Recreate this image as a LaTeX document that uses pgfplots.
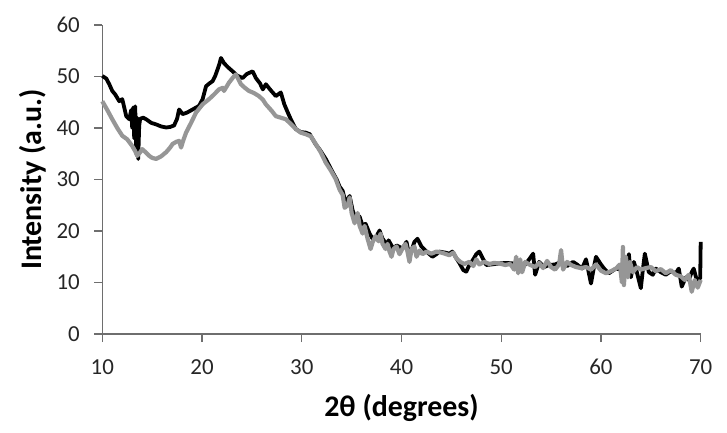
\documentclass[border=0pt]{standalone}
\usepackage{pgfplots}
\pgfplotsset{compat=1.18}
\usepackage{fontspec}
\setmainfont{Carlito}
\definecolor{axgray}{RGB}{110,110,110}
\definecolor{curvegray}{RGB}{150,150,150}
\begin{document}
\begin{tikzpicture}
\begin{axis}[
  at={(0,0)}, anchor=south west,
  scale only axis,
  width=598.4bp, height=309bp,
  xmin=10, xmax=70, ymin=0, ymax=60,
  xtick={10,20,...,70}, ytick={0,10,...,60},
  axis x line=bottom, axis y line=left,
  axis line style={-, axgray, line width=1.3bp},
  xtick align=outside, ytick align=outside,
  major tick length=8bp,
  every tick/.style={axgray, line width=1.3bp},
  major tick style={axgray, line width=1.3bp},
  /pgf/number format/assume math mode=true,
  ticklabel style={font=\fontsize{23}{25}\selectfont, text=black!85},
  xticklabel style={yshift=-14bp},
  yticklabel style={xshift=-11bp},
  xlabel={\bfseries 2θ (degrees)},
  ylabel={\bfseries Intensity (a.u.)},
  xlabel style={font=\fontsize{30}{32}\selectfont, at={(axis description cs:0.5,-0.24)}, anchor=center},
  ylabel style={font=\fontsize{30}{32}\selectfont, at={(axis description cs:-0.116,0.5)}, anchor=center},
  clip=false,
]
\addplot[black, line width=3.8bp, line join=round] coordinates {
(10.0,50.1)(10.4,49.6)(10.7,48.5)(11.0,47.2)(11.3,46.5)(11.7,45.2)(12.0,45.6)(12.2,44.0)(12.4,42.3)(12.7,41.7)(12.9,43.5)(13.0,40.0)(13.1,44.0)(13.2,38.0)(13.3,44.2)(13.4,35.0)(13.5,42.0)(13.6,34.0)(13.7,40.5)(13.8,41.8)(14.1,42.0)(14.4,41.7)(14.9,41.0)(15.4,40.7)(15.9,40.3)(16.4,40.1)(16.8,40.2)(17.2,40.5)(17.5,41.8)(17.7,43.6)(18.05,42.7)(18.5,43.0)(19.06,43.6)(19.7,44.3)(20.06,45.6)(20.4,48.1)(20.7,48.6)(21.06,49.1)(21.3,50.0)(21.56,51.4)(21.75,52.5)(21.9,53.6)(22.2,52.6)(22.6,51.8)(23.07,51.0)(23.5,50.2)(24.07,49.7)(24.5,50.5)(25.07,51.0)(25.4,49.7)(25.8,48.7)(26.1,47.5)(26.4,48.5)(26.9,47.3)(27.4,46.2)(27.9,46.9)(28.25,44.6)(28.6,43.0)(28.9,41.7)(29.4,39.8)(29.9,39.2)(30.4,39.1)(30.8,38.8)(31.4,36.8)(31.8,35.8)(32.4,34.0)(33.1,31.4)(33.5,30.0)(33.8,28.6)(34.1,27.8)(34.4,25.5)(34.8,26.8)(35.1,24.0)(35.4,22.5)(35.8,22.8)(36.1,21.0)(36.4,21.4)(36.8,19.5)(37.1,18.5)(37.5,19.0)(37.8,20.1)(38.1,18.5)(38.6,17.2)(38.7,18.2)(39.2,16.5)(39.5,17.2)(40.1,16.6)(40.5,17.9)(40.8,15.0)(41.3,17.9)(41.6,18.5)(42.0,17.0)(42.5,16.0)(43.1,15.0)(43.5,15.5)(43.8,16.0)(44.4,15.8)(44.8,15.6)(45.1,16.0)(45.5,14.7)(45.8,13.8)(46.2,12.4)(46.5,12.1)(46.8,13.4)(47.2,14.5)(47.5,15.5)(47.8,16.0)(48.2,14.5)(48.5,13.4)(49.0,13.5)(49.8,13.7)(50.5,13.8)(51.2,13.7)(51.6,13.0)(52.0,12.6)(52.4,13.5)(52.8,14.5)(53.2,15.6)(53.4,11.5)(53.8,14.0)(54.3,13.0)(54.8,13.4)(55.4,13.5)(56.0,14.0)(56.6,13.2)(57.2,14.0)(57.6,13.5)(58.1,12.7)(58.5,14.5)(59.0,9.8)(59.3,13.0)(59.5,15.0)(60.0,13.5)(60.4,12.5)(60.8,11.8)(61.5,12.7)(62.0,12.5)(62.5,13.0)(62.8,15.5)(63.0,11.0)(63.3,14.0)(63.6,12.0)(64.0,8.9)(64.2,12.5)(64.4,15.6)(64.8,12.0)(65.2,11.5)(65.5,12.7)(66.0,12.0)(66.5,11.5)(67.0,12.2)(67.5,11.8)(67.8,12.7)(68.1,9.2)(68.5,11.0)(68.8,10.5)(69.1,12.0)(69.3,12.7)(69.6,10.5)(69.95,10.8)(70.0,17.9)
};
\addplot[curvegray, line width=4.2bp, line join=round] coordinates {
(10.0,45.2)(10.5,43.5)(11.0,41.7)(11.5,40.0)(12.0,38.5)(12.5,37.8)(13.0,36.5)(13.3,35.5)(13.5,34.6)(13.8,35.3)(14.0,35.9)(14.4,35.2)(14.7,34.6)(15.0,34.2)(15.4,34.0)(15.9,34.5)(16.4,35.3)(16.8,36.2)(17.05,36.9)(17.4,37.3)(17.7,37.5)(17.9,36.2)(18.1,37.5)(18.4,39.1)(18.9,41.0)(19.4,43.0)(20.06,44.6)(20.7,45.6)(21.2,46.5)(21.7,47.5)(22.07,47.8)(22.2,47.2)(22.7,48.8)(23.1,49.8)(23.4,50.4)(23.9,48.5)(24.3,47.8)(24.7,47.2)(25.2,46.8)(25.7,46.2)(26.1,45.5)(26.4,44.6)(27.0,43.3)(27.4,42.3)(27.9,42.0)(28.4,41.7)(28.9,40.8)(29.4,39.8)(29.9,39.1)(30.4,38.8)(30.9,38.4)(31.4,36.9)(31.9,35.3)(32.4,33.3)(32.9,31.8)(33.4,30.1)(33.8,28.0)(34.1,27.0)(34.3,24.5)(34.6,25.0)(34.8,26.5)(35.0,23.5)(35.3,21.5)(35.6,23.5)(35.8,21.0)(36.1,19.5)(36.3,21.0)(36.6,18.5)(36.9,16.5)(37.1,17.8)(37.4,19.0)(37.7,18.0)(37.9,19.5)(38.1,17.5)(38.4,16.5)(38.6,17.5)(38.8,16.0)(39.0,15.0)(39.2,16.5)(39.5,17.0)(39.8,15.5)(40.1,16.6)(40.4,17.5)(40.6,16.0)(40.8,14.0)(41.0,16.5)(41.3,17.0)(41.5,15.0)(41.8,16.2)(42.1,15.5)(42.5,16.0)(43.0,15.6)(43.5,16.0)(44.0,15.8)(44.5,15.5)(44.8,15.3)(45.2,15.8)(45.5,14.7)(45.9,14.0)(46.3,13.6)(46.8,14.0)(47.2,13.2)(47.5,14.5)(47.8,13.5)(48.3,14.0)(48.8,13.6)(49.3,13.8)(49.8,13.7)(50.4,13.4)(50.9,13.6)(51.3,12.5)(51.5,15.0)(51.7,11.8)(51.9,14.5)(52.1,12.0)(52.4,14.0)(52.8,13.5)(53.4,13.0)(53.8,13.8)(54.2,12.8)(54.6,14.2)(55.0,13.0)(55.4,12.5)(55.8,13.5)(56.0,16.3)(56.2,12.5)(56.6,14.0)(57.0,13.4)(57.5,13.0)(58.0,12.8)(58.5,13.0)(59.0,12.5)(59.5,13.5)(60.0,12.3)(60.5,11.8)(61.0,12.2)(61.5,12.7)(61.9,13.5)(62.1,10.0)(62.2,16.9)(62.3,9.5)(62.5,15.0)(62.7,11.0)(62.9,14.0)(63.2,12.0)(63.6,13.0)(64.0,12.5)(64.5,12.8)(65.0,13.0)(65.5,12.2)(66.0,12.6)(66.5,11.8)(67.0,12.4)(67.5,11.5)(68.0,11.2)(68.4,10.5)(68.8,11.5)(69.1,8.2)(69.4,10.5)(69.7,9.0)(70.0,10.5)
};
\end{axis}
\pgfresetboundingbox
\path[use as bounding box] (-102.3bp,-99bp) rectangle (624.7bp,334bp);
\end{tikzpicture}
\end{document}
